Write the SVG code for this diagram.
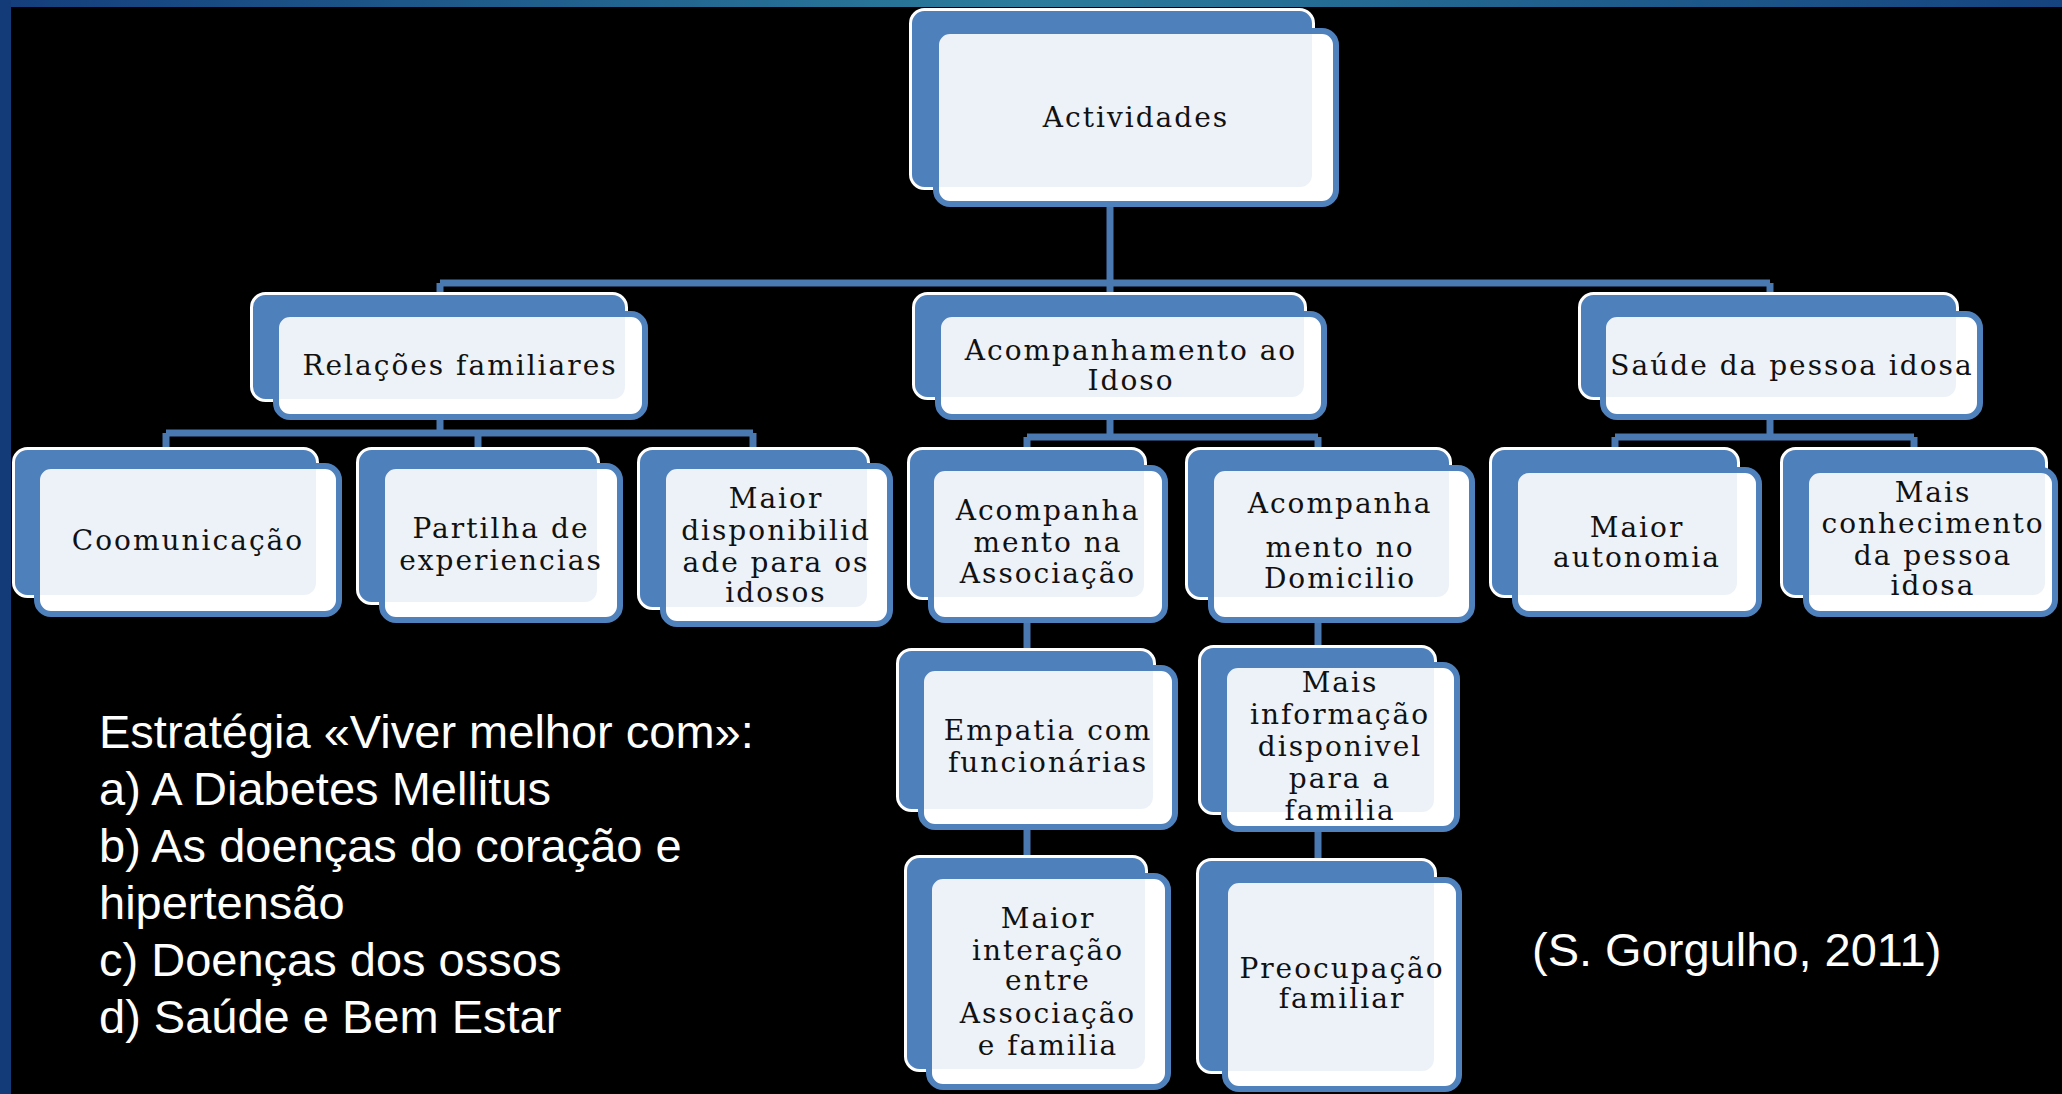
<svg xmlns="http://www.w3.org/2000/svg" width="2062" height="1094" viewBox="0 0 2062 1094">
<defs>
<linearGradient id="topband" x1="0" y1="0" x2="1" y2="0">
<stop offset="0" stop-color="#143e7c"/>
<stop offset="0.5" stop-color="#2b7c9c"/>
<stop offset="1" stop-color="#15437f"/>
</linearGradient>
<style>
.back{fill:#4f81bd;stroke:#ffffff;stroke-width:3}
.front{fill:#ffffff;stroke:#4f81bd;stroke-width:6}
.tint{fill:#4f81bd;fill-opacity:0.1}
.lbl{font-family:"DejaVu Serif","Liberation Serif",serif;font-size:28px;letter-spacing:2px;fill:#111111;text-anchor:middle}
.conn{stroke:#4a78b0;stroke-width:7;fill:none}
.note{font-family:"Liberation Sans",Arial,sans-serif;font-size:47px;fill:#ffffff}
</style>
</defs>
<rect x="0" y="0" width="2062" height="1094" fill="#000000"/>
<rect x="0" y="0" width="2062" height="7" fill="url(#topband)"/>
<rect x="0" y="0" width="11" height="1094" fill="#123b78"/>

<g id="connectors">
<path class="conn" d="M1110 207 V283 M440 283 H1770 M440 283 V292 M1110 283 V292 M1770 283 V292"/>
<path class="conn" d="M440 420 V433 M166 433 H753 M166 433 V447 M478 433 V447 M753 433 V447"/>
<path class="conn" d="M1110 420 V437 M1027 437 H1318 M1027 437 V447 M1318 437 V447"/>
<path class="conn" d="M1770 420 V437 M1615 437 H1914 M1615 437 V447 M1914 437 V447"/>
<path class="conn" d="M1027 623 V648 M1027 830 V855"/>
<path class="conn" d="M1318 623 V645 M1318 832 V858"/>
</g>

<g id="node-actividades">
<rect class="back" x="910.5" y="9.5" width="403" height="179" rx="14"/>
<rect class="front" x="936" y="31" width="400" height="173" rx="14"/>
<rect class="tint" x="912" y="11" width="400" height="176" rx="12"/>
<text class="lbl" x="1136" y="127">Actividades</text>
</g>

<g id="node-relacoes">
<rect class="back" x="251.5" y="293.5" width="375" height="107" rx="14"/>
<rect class="front" x="276" y="314" width="369" height="103" rx="14"/>
<rect class="tint" x="253" y="295" width="372" height="104" rx="12"/>
<text class="lbl" x="460" y="375">Relações familiares</text>
</g>

<g id="node-acompanhamento">
<rect class="back" x="913.5" y="293.5" width="392" height="105" rx="14"/>
<rect class="front" x="938" y="314" width="386" height="103" rx="14"/>
<rect class="tint" x="915" y="295" width="389" height="102" rx="12"/>
<text class="lbl" x="1131" y="360">Acompanhamento ao</text>
<text class="lbl" x="1131" y="390">Idoso</text>
</g>

<g id="node-saude">
<rect class="back" x="1579.5" y="293.5" width="378" height="105" rx="14"/>
<rect class="front" x="1603" y="314" width="377" height="103" rx="14"/>
<rect class="tint" x="1581" y="295" width="375" height="102" rx="12"/>
<text class="lbl" x="1792" y="375">Saúde da pessoa idosa</text>
</g>

<g id="node-coomunicacao">
<rect class="back" x="13.5" y="448.5" width="304" height="148" rx="14"/>
<rect class="front" x="37" y="466" width="302" height="148" rx="14"/>
<rect class="tint" x="15" y="450" width="301" height="145" rx="12"/>
<text class="lbl" x="188" y="550">Coomunicação</text>
</g>

<g id="node-partilha">
<rect class="back" x="357.5" y="448.5" width="241" height="155" rx="14"/>
<rect class="front" x="382" y="466" width="238" height="154" rx="14"/>
<rect class="tint" x="359" y="450" width="238" height="152" rx="12"/>
<text class="lbl" x="501" y="538">Partilha de</text>
<text class="lbl" x="501" y="570">experiencias</text>
</g>

<g id="node-maior-disponibilidade">
<rect class="back" x="638.5" y="448.5" width="230" height="160" rx="14"/>
<rect class="front" x="663" y="466" width="227" height="158" rx="14"/>
<rect class="tint" x="640" y="450" width="227" height="157" rx="12"/>
<text class="lbl" x="776" y="508">Maior</text>
<text class="lbl" x="776" y="540">disponibilid</text>
<text class="lbl" x="776" y="572">ade para os</text>
<text class="lbl" x="776" y="602">idosos</text>
</g>

<g id="node-associacao">
<rect class="back" x="908.5" y="448.5" width="237" height="150" rx="14"/>
<rect class="front" x="931" y="468" width="234" height="152" rx="14"/>
<rect class="tint" x="910" y="450" width="234" height="147" rx="12"/>
<text class="lbl" x="1048" y="520">Acompanha</text>
<text class="lbl" x="1048" y="552">mento na</text>
<text class="lbl" x="1048" y="583">Associação</text>
</g>

<g id="node-domicilio">
<rect class="back" x="1186.5" y="448.5" width="264" height="150" rx="14"/>
<rect class="front" x="1211" y="468" width="261" height="152" rx="14"/>
<rect class="tint" x="1188" y="450" width="261" height="147" rx="12"/>
<text class="lbl" x="1340" y="513">Acompanha</text>
<text class="lbl" x="1340" y="557">mento no</text>
<text class="lbl" x="1340" y="588">Domicilio</text>
</g>

<g id="node-empatia">
<rect class="back" x="897.5" y="649.5" width="257" height="161" rx="14"/>
<rect class="front" x="921" y="668" width="254" height="159" rx="14"/>
<rect class="tint" x="899" y="651" width="254" height="158" rx="12"/>
<text class="lbl" x="1048" y="740">Empatia com</text>
<text class="lbl" x="1048" y="772">funcionárias</text>
</g>

<g id="node-mais-informacao">
<rect class="back" x="1199.5" y="646.5" width="236" height="167" rx="14"/>
<rect class="front" x="1224" y="665" width="233" height="164" rx="14"/>
<rect class="tint" x="1201" y="648" width="233" height="164" rx="12"/>
<text class="lbl" x="1340" y="692">Mais</text>
<text class="lbl" x="1340" y="724">informação</text>
<text class="lbl" x="1340" y="756">disponivel</text>
<text class="lbl" x="1340" y="788">para a</text>
<text class="lbl" x="1340" y="820">familia</text>
</g>

<g id="node-maior-interacao">
<rect class="back" x="905.5" y="856.5" width="241" height="214" rx="14"/>
<rect class="front" x="929" y="876" width="239" height="211" rx="14"/>
<rect class="tint" x="907" y="858" width="238" height="211" rx="12"/>
<text class="lbl" x="1048" y="928">Maior</text>
<text class="lbl" x="1048" y="960">interação</text>
<text class="lbl" x="1048" y="990">entre</text>
<text class="lbl" x="1048" y="1023">Associação</text>
<text class="lbl" x="1048" y="1055">e familia</text>
</g>

<g id="node-preocupacao">
<rect class="back" x="1197.5" y="859.5" width="238" height="213" rx="14"/>
<rect class="front" x="1225" y="880" width="234" height="209" rx="14"/>
<rect class="tint" x="1199" y="861" width="235" height="210" rx="12"/>
<text class="lbl" x="1342" y="978">Preocupação</text>
<text class="lbl" x="1342" y="1008">familiar</text>
</g>

<g id="node-autonomia">
<rect class="back" x="1490.5" y="448.5" width="248" height="148" rx="14"/>
<rect class="front" x="1515" y="470" width="244" height="144" rx="14"/>
<rect class="tint" x="1492" y="450" width="245" height="145" rx="12"/>
<text class="lbl" x="1637" y="537">Maior</text>
<text class="lbl" x="1637" y="567">autonomia</text>
</g>

<g id="node-conhecimento">
<rect class="back" x="1781.5" y="448.5" width="265" height="148" rx="14"/>
<rect class="front" x="1806" y="470" width="249" height="144" rx="14"/>
<rect class="tint" x="1783" y="450" width="262" height="145" rx="12"/>
<text class="lbl" x="1933" y="502">Mais</text>
<text class="lbl" x="1933" y="533">conhecimento</text>
<text class="lbl" x="1933" y="565">da pessoa</text>
<text class="lbl" x="1933" y="595">idosa</text>
</g>

<g id="strategy-text">
<text class="note" x="99" y="748">Estratégia «Viver melhor com»:</text>
<text class="note" x="99" y="805">a) A Diabetes Mellitus</text>
<text class="note" x="99" y="862">b) As doenças do coração e</text>
<text class="note" x="99" y="919">hipertensão</text>
<text class="note" x="99" y="976">c) Doenças dos ossos</text>
<text class="note" x="99" y="1033">d) Saúde e Bem Estar</text>
</g>
<g id="citation">
<text class="note" x="1532" y="966">(S. Gorgulho, 2011)</text>
</g>
</svg>
